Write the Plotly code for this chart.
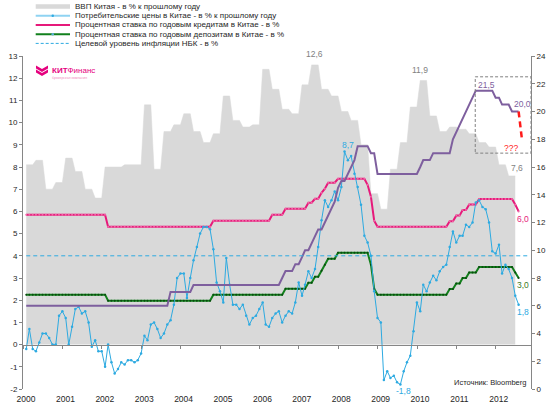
import numpy as np
import pandas as pd
import plotly.graph_objects as go

# ---------------- data ----------------
months = pd.date_range("2000-01-31", periods=151, freq="ME")  # Jan 2000 .. Jul 2012 (month ends)

# China GDP, % y/y, quarterly Q1 2000 .. Q2 2012
gdp_q = [8.1, 8.3, 7.0, 7.3,
         8.4, 7.8, 7.0, 6.6,
         8.0, 8.0, 8.1, 8.1,
         10.8, 7.9, 9.6, 9.9,
         10.4, 9.6, 9.1, 9.5,
         11.2, 10.1, 9.8, 9.9,
         12.4, 11.5, 10.6, 10.4,
         11.7, 12.6, 11.5, 11.2,
         10.5, 10.1, 9.0, 6.8,
         6.1, 7.9, 9.1, 10.7,
         11.9, 10.3, 9.6, 9.8,
         9.7, 9.5, 9.1, 8.9,
         8.1, 7.6]

# CPI, % y/y, monthly
cpi = [-0.2, 0.7, -0.2, -0.3, 0.1, 0.5, 0.5, 0.3, 0.0, 0.0, 1.3, 1.5,
       1.2, 0.0, 0.8, 1.6, 1.7, 1.4, 1.5, 1.0, -0.1, 0.2, -0.3, -0.3,
       -1.0, 0.0, -0.8, -1.3, -1.1, -0.8, -0.9, -0.7, -0.7, -0.8, -0.7, -0.4,
       0.4, 0.2, 0.9, 1.0, 0.7, 0.3, 0.5, 0.9, 1.1, 1.8, 3.0, 3.2,
       3.2, 2.1, 3.0, 3.8, 4.4, 5.0, 5.3, 5.3, 5.2, 4.3, 2.8, 2.4,
       1.9, 3.9, 2.7, 1.8, 1.8, 1.6, 1.8, 1.3, 0.9, 1.2, 1.3, 1.6,
       1.9, 0.9, 0.8, 1.2, 1.4, 1.5, 1.0, 1.3, 1.5, 1.4, 1.9, 2.8,
       2.2, 2.7, 3.3, 3.0, 3.4, 4.4, 5.6, 6.5, 6.2, 6.5, 6.9, 6.5,
       7.1, 8.7, 8.3, 8.5, 7.7, 7.1, 6.3, 4.9, 4.6, 4.0, 2.4, 1.2,
       1.0, -1.6, -1.2, -1.5, -1.4, -1.7, -1.8, -1.2, -0.8, -0.5, 0.6, 1.9,
       1.5, 2.7, 2.4, 2.8, 3.1, 2.9, 3.3, 3.5, 3.6, 4.4, 5.1, 4.6,
       4.9, 4.9, 5.4, 5.3, 5.5, 6.4, 6.5, 6.2, 6.1, 5.5, 4.2, 4.1,
       4.5, 3.2, 3.6, 3.4, 3.0, 2.2, 1.8]

# 1-year lending rate, %
lending = [5.85] * 12 + [5.85] * 12 + \
    [5.85, 5.31, 5.31, 5.31, 5.31, 5.31, 5.31, 5.31, 5.31, 5.31, 5.31, 5.31] + \
    [5.31] * 12 + \
    [5.31, 5.31, 5.31, 5.31, 5.31, 5.31, 5.31, 5.31, 5.31, 5.58, 5.58, 5.58] + \
    [5.58] * 12 + \
    [5.58, 5.58, 5.58, 5.85, 5.85, 5.85, 5.85, 6.12, 6.12, 6.12, 6.12, 6.12] + \
    [6.12, 6.12, 6.39, 6.39, 6.57, 6.57, 6.84, 7.02, 7.29, 7.29, 7.29, 7.47] + \
    [7.47, 7.47, 7.47, 7.47, 7.47, 7.47, 7.47, 7.47, 7.20, 6.66, 5.58, 5.31] + \
    [5.31] * 12 + \
    [5.31, 5.31, 5.31, 5.31, 5.31, 5.31, 5.31, 5.31, 5.31, 5.56, 5.56, 5.81] + \
    [5.81, 6.06, 6.06, 6.31, 6.31, 6.31, 6.56, 6.56, 6.56, 6.56, 6.56, 6.56] + \
    [6.56, 6.56, 6.56, 6.56, 6.56, 6.31, 6.00]

# 1-year deposit rate, %
deposit = [2.25] * 12 + [2.25] * 12 + \
    [2.25, 1.98, 1.98, 1.98, 1.98, 1.98, 1.98, 1.98, 1.98, 1.98, 1.98, 1.98] + \
    [1.98] * 12 + \
    [1.98, 1.98, 1.98, 1.98, 1.98, 1.98, 1.98, 1.98, 1.98, 2.25, 2.25, 2.25] + \
    [2.25] * 12 + \
    [2.25, 2.25, 2.25, 2.25, 2.25, 2.25, 2.25, 2.52, 2.52, 2.52, 2.52, 2.52] + \
    [2.52, 2.52, 2.79, 2.79, 3.06, 3.06, 3.33, 3.60, 3.87, 3.87, 3.87, 4.14] + \
    [4.14, 4.14, 4.14, 4.14, 4.14, 4.14, 4.14, 4.14, 4.14, 3.60, 2.52, 2.25] + \
    [2.25] * 12 + \
    [2.25, 2.25, 2.25, 2.25, 2.25, 2.25, 2.25, 2.25, 2.25, 2.50, 2.50, 2.75] + \
    [2.75, 3.00, 3.00, 3.25, 3.25, 3.25, 3.50, 3.50, 3.50, 3.50, 3.50, 3.50] + \
    [3.50, 3.50, 3.50, 3.50, 3.50, 3.25, 3.00]

# reserve requirement ratio, % (right axis)
reserve = [6.0] * 12 + [6.0] * 12 + [6.0] * 12 + \
    [6.0, 6.0, 6.0, 6.0, 6.0, 6.0, 6.0, 6.0, 7.0, 7.0, 7.0, 7.0] + \
    [7.0, 7.0, 7.0, 7.5, 7.5, 7.5, 7.5, 7.5, 7.5, 7.5, 7.5, 7.5] + \
    [7.5] * 12 + \
    [7.5, 7.5, 7.5, 7.5, 7.5, 7.5, 8.0, 8.5, 8.5, 8.5, 9.0, 9.0] + \
    [9.5, 10.0, 10.0, 10.5, 11.0, 11.5, 11.5, 12.0, 12.5, 13.0, 13.5, 14.5] + \
    [15.0, 15.0, 15.5, 16.0, 16.5, 17.5, 17.5, 17.5, 17.5, 17.0, 17.0, 15.5] + \
    [15.5] * 12 + \
    [16.0, 16.5, 16.5, 16.5, 17.0, 17.0, 17.0, 17.0, 17.0, 17.0, 18.0, 18.5] + \
    [19.0, 19.5, 20.0, 20.5, 21.0, 21.5, 21.5, 21.5, 21.5, 21.5, 21.5, 21.0] + \
    [21.0, 20.5, 20.5, 20.5, 20.0, 20.0, 20.0]

target_dates = ["2000-01-31", "2012-10-20"]
target = [4, 4]

forecast_dates = ["2012-07-31", "2012-08-31"]
forecast = [20.0, 18.0]

year_ticks = [f"{y}-01-01" for y in range(2000, 2013)]
year_labels = [str(y) for y in range(2000, 2013)]

left_ticks = list(range(-2, 14))
left_labels = [str(v) for v in left_ticks]  # ASCII hyphen-minus as in the original

legend_labels = ["ВВП Китая - в % к прошлому году",
                 "Потребительские цены в Китае - в % к прошлому году",
                 "Процентная ставка по годовым кредитам в Китае - в %",
                 "Процентная ставка по годовым депозитам в Китае - в %",
                 "Целевой уровень инфляции НБК - в %"]

# ---------------- styles ----------------
C_GDP = "#D9D9D9"
C_CPI = "#2DAAE1"
C_LEND = "#E6197A"
C_DEP = "#12801C"
C_RRR = "#7E5F9E"
C_RED = "#FF1A1A"
C_AX = "#868686"
FONT = "Liberation Sans, Arial, sans-serif"

gdp_m = np.repeat(gdp_q, 3)

fig = go.Figure()
fig.add_trace(go.Scatter(x=months[:len(gdp_m)], y=gdp_m, mode="lines", fill="tozeroy",
                         fillcolor=C_GDP, line=dict(color=C_GDP, width=0.5), hoverinfo="skip"))
fig.add_trace(go.Scatter(x=months, y=lending, mode="lines+markers",
                         line=dict(color=C_LEND, width=2), marker=dict(size=2, color="#F06AA8")))
fig.add_trace(go.Scatter(x=months, y=deposit, mode="lines+markers",
                         line=dict(color=C_DEP, width=2), marker=dict(size=2, color="#0A4A0F")))
fig.add_trace(go.Scatter(x=months, y=cpi, mode="lines+markers",
                         line=dict(color=C_CPI, width=1), marker=dict(size=2.5, color=C_CPI)))
fig.add_trace(go.Scatter(x=target_dates, y=target, mode="lines", xaxis="x2",
                         line=dict(color=C_CPI, width=1, dash="4px,3px")))
fig.add_trace(go.Scatter(x=months, y=reserve, mode="lines", yaxis="y2",
                         line=dict(color=C_RRR, width=2)))
fig.add_trace(go.Scatter(x=forecast_dates, y=forecast, mode="lines", yaxis="y2",
                         line=dict(color=C_RED, width=2.5, dash="6px,4px")))

L, R, T, B = 23, 19, 56, 21
W, H = 550, 410
PW, PH = W - L - R, H - T - B


def px(x):
    return (x - L) / PW


def py(y):
    return (H - B - y) / PH


xr = ["2000-01-01", "2012-11-23"]

fig.update_layout(
    width=W, height=H,
    margin=dict(l=L, r=R, t=T, b=B, pad=0, autoexpand=False),
    paper_bgcolor="white", plot_bgcolor="white",
    showlegend=False,
    font=dict(family=FONT, size=8, color="#262626"),
    xaxis=dict(type="date", range=xr, tickvals=year_ticks, ticktext=year_labels,
               ticks="outside", ticklen=2, tickcolor="rgba(0,0,0,0)", automargin=False,
               showline=False, showgrid=False, zeroline=False,
               tickfont=dict(size=8.5), ticklabelshift=3),
    xaxis2=dict(type="date", range=xr, overlaying="x", anchor="free", position=2 / 15,
                showline=True, linecolor=C_AX, linewidth=1, ticks="outside", ticklen=3,
                tickcolor=C_AX, tickvals=year_ticks, showticklabels=False, automargin=False,
                showgrid=False, zeroline=False),
    yaxis=dict(range=[-2, 13], tickvals=left_ticks, ticktext=left_labels,
               ticks="outside", ticklen=3, tickcolor=C_AX,
               showline=True, linecolor=C_AX, showgrid=False, zeroline=False, automargin=False),
    yaxis2=dict(range=[0, 24], dtick=2, tick0=0, overlaying="y", side="right", anchor="x",
                ticks="outside", ticklen=3, tickcolor=C_AX, automargin=False,
                showline=True, linecolor=C_AX, showgrid=False, zeroline=False),
)

# dashed highlight box on right axis scale
fig.add_shape(type="rect", xref="x", yref="y2", x0="2011-06-25", x1=xr[1], y0=17.0, y1=22.5,
              line=dict(color="#808080", width=1, dash="3px,2px"), fillcolor="rgba(0,0,0,0)")

anns = []


def note(text, x, y, color, size=8.5, xanchor="center"):
    anns.append(dict(text=text, x=px(x), y=py(y), xref="paper", yref="paper",
                     showarrow=False, xanchor=xanchor, yanchor="middle",
                     font=dict(color=color, size=size, family=FONT)))


note("12,6", 314, 54, "#7F7F7F")
note("11,9", 420, 70, "#7F7F7F")
note("7,6", 517, 168, "#7F7F7F")
note("8,7", 348, 145, C_CPI)
note("21,5", 486, 85, C_RRR)
note("20,0", 522, 104, C_RRR)
note("???", 511, 148, C_RED)
note("6,0", 523, 219, C_LEND)
note("3,0", 523, 285, "#3C7A1E")
note("1,8", 523, 312, C_CPI)
note("-1,8", 403, 391, C_CPI)
note("Источник: Bloomberg", 490, 382.5, "#262626", size=7.5)

# legend (manual, compact)
rows = [6.5, 15.8, 25.0, 34.2, 43.4]
for lab, yy in zip(legend_labels, rows):
    note(lab, 73, yy, "#262626", size=8, xanchor="left")

shapes = []
kx0, kx1 = px(35.7), px(70)
shapes.append(dict(type="rect", xref="paper", yref="paper", x0=kx0, x1=kx1,
                   y0=py(rows[0] + 2.3), y1=py(rows[0] - 2.3), fillcolor=C_GDP, line=dict(width=0)))
shapes.append(dict(type="line", xref="paper", yref="paper", x0=kx0, x1=kx1, y0=py(rows[1]), y1=py(rows[1]),
                   line=dict(color="#8FD3F2", width=2)))
shapes.append(dict(type="line", xref="paper", yref="paper", x0=kx0, x1=kx1, y0=py(rows[2]), y1=py(rows[2]),
                   line=dict(color=C_LEND, width=2)))
shapes.append(dict(type="line", xref="paper", yref="paper", x0=kx0, x1=kx1, y0=py(rows[3]), y1=py(rows[3]),
                   line=dict(color=C_DEP, width=2)))
shapes.append(dict(type="line", xref="paper", yref="paper", x0=kx0, x1=kx1, y0=py(rows[4]), y1=py(rows[4]),
                   line=dict(color=C_CPI, width=1, dash="3px,2px")))
for yy, cc in [(rows[1], C_CPI), (rows[3], "#5BB0D8")]:
    shapes.append(dict(type="circle", xref="paper", yref="paper", x0=px(51.5), x1=px(54),
                       y0=py(yy + 1.2), y1=py(yy - 1.2), fillcolor=cc, line=dict(width=0)))

# logo
LOGO = "#E5007E"


def chev(x0, y0):
    pts = [(x0, y0), (x0 + 6, y0 + 3.5), (x0 + 12, y0), (x0 + 12, y0 + 3), (x0 + 6, y0 + 6.5), (x0, y0 + 3)]
    return "M " + " L ".join(f"{px(a):.5f},{py(b):.5f}" for a, b in pts) + " Z"


for yy in (65.5, 69.5):
    shapes.append(dict(type="path", xref="paper", yref="paper", path=chev(36, yy),
                       fillcolor=LOGO, line=dict(width=0)))
note("<b>КИТ</b>Финанс", 49.5, 70, LOGO, size=8, xanchor="left")
note("брокерская компания", 49.5, 77.5, "#F08CC0", size=3.5, xanchor="left")

for s in shapes:
    fig.add_shape(**s)
fig.update_layout(annotations=anns)

fig.write_html("out.html", config={"displayModeBar": False},
               post_script="document.body.style.margin='0px';document.body.style.overflow='hidden';")
